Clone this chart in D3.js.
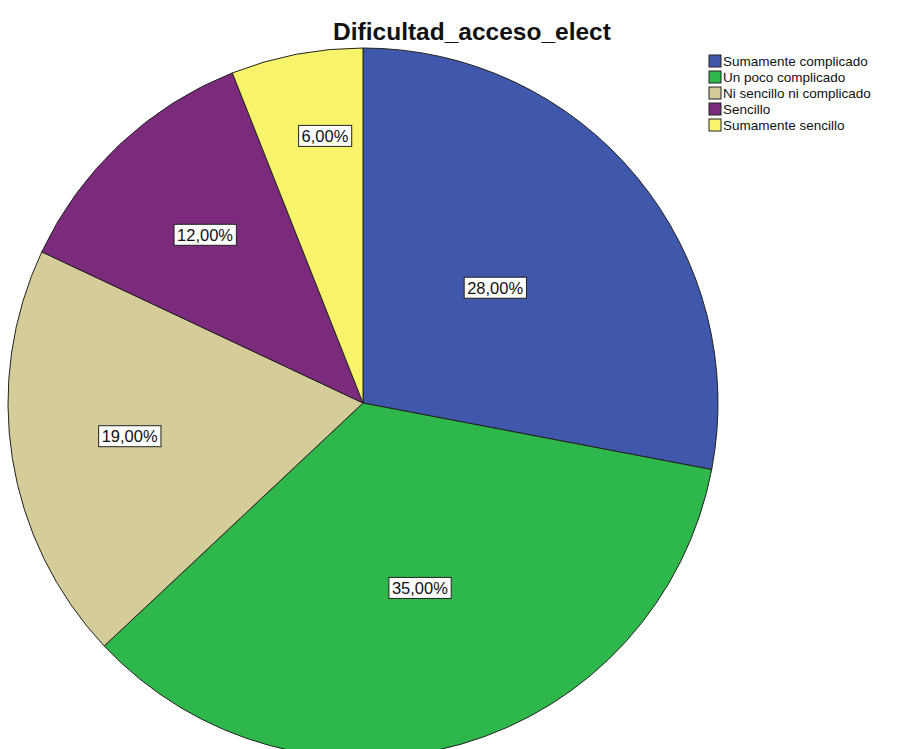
<!DOCTYPE html>
<html><head><meta charset="utf-8">
<script src="https://cdn.jsdelivr.net/npm/d3@7/dist/d3.min.js"></script>
<style>body{margin:0;background:#fff;}svg{display:block;}</style>
</head><body>
<svg id="c" width="922" height="749"></svg>
<script>
const title = "Dificultad_acceso_elect";
const categories = ["Sumamente complicado","Un poco complicado","Ni sencillo ni complicado","Sencillo","Sumamente sencillo"];
const values = [28, 35, 19, 12, 6];
const labels = ["28,00%","35,00%","19,00%","12,00%","6,00%"];
const colors = ["#3f58ab","#2eb74a","#d5cd99","#7c2a7c","#f7f46b"];
// layout: label distance from centre as fraction of radius, and small angle shifts (degrees)
const labelRadiusFrac = [0.494, 0.545, 0.664, 0.65, 0.76];
const labelAngleShift = [-1.5, -0.9, 0.9, 0, 2.7];

const svg = d3.select("#c");
const cx = 363, cy = 403, r = 355;
const font = "Arial, 'Liberation Sans', sans-serif";

const pie = d3.pie().sort(null).value(d => d)(values);
const arc = d3.arc().innerRadius(0).outerRadius(r);
const g = svg.append("g").attr("transform", `translate(${cx},${cy})`);
g.selectAll("path").data(pie).join("path")
  .attr("d", arc).attr("fill", (d,i)=>colors[i])
  .attr("stroke", "#222").attr("stroke-width", 1);

pie.forEach((d,i) => {
  const a = (d.startAngle + d.endAngle)/2 + labelAngleShift[i]*Math.PI/180;
  const lr = r*labelRadiusFrac[i];
  const x = Math.sin(a)*lr, y = -Math.cos(a)*lr;
  const lg = g.append("g").attr("transform", `translate(${x},${y})`);
  const t = lg.append("text").attr("text-anchor","middle").attr("dy","0.36em")
    .attr("font-family", font).attr("font-size", 16.5).attr("fill","#111").text(labels[i]);
  const bb = t.node().getBBox();
  lg.insert("rect","text").attr("x", bb.x-3).attr("y", -10.5).attr("width", bb.width+6).attr("height", 21)
    .attr("fill","#fff").attr("stroke","#222").attr("stroke-width",1);
});

svg.append("text").attr("x", 472).attr("y", 40).attr("text-anchor","middle")
  .attr("font-family", font).attr("font-weight","bold").attr("font-size", 24.5).attr("fill","#111").text(title);

const leg = svg.append("g").attr("transform","translate(709,55)");
categories.forEach((c,i) => {
  const row = leg.append("g").attr("transform", `translate(0,${i*16})`);
  row.append("rect").attr("x",0).attr("y",0).attr("width",12).attr("height",12)
    .attr("fill", colors[i]).attr("stroke","#222").attr("stroke-width",1);
  row.append("text").attr("x",14).attr("y",11).attr("font-family", font).attr("font-size",13.5).attr("fill","#111").text(c);
});
</script>
</body></html>
